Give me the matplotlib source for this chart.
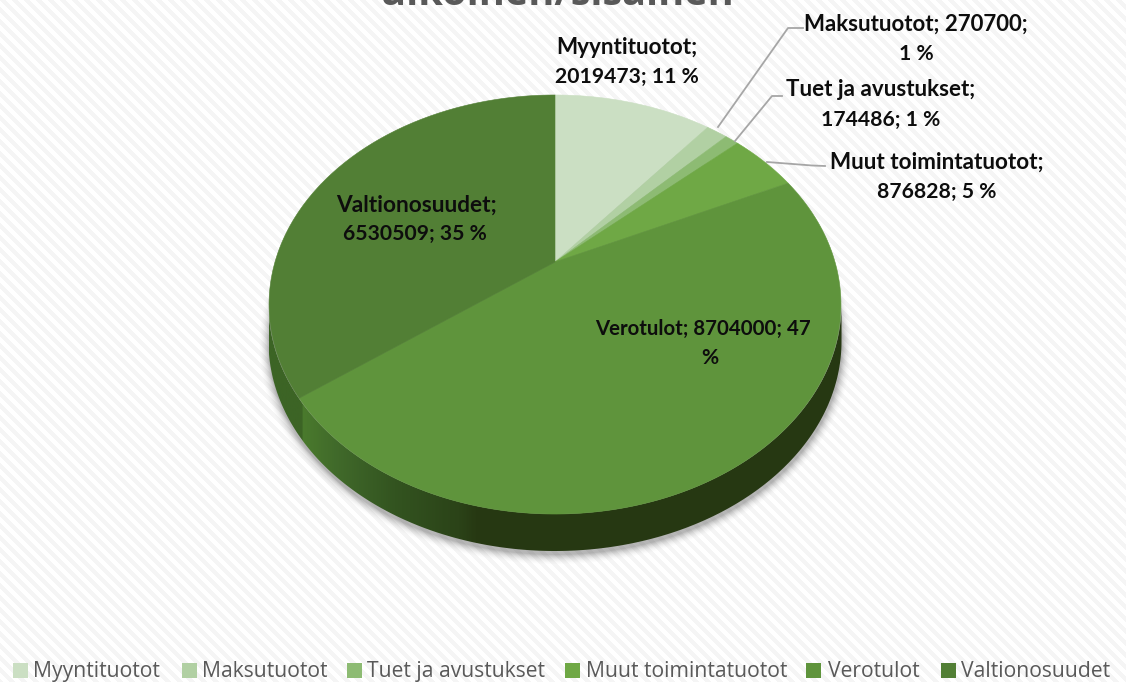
import numpy as np
import matplotlib
matplotlib.use("Agg")
import matplotlib.pyplot as plt
from matplotlib.colors import LinearSegmentedColormap
from matplotlib.patches import Polygon, Rectangle

title = "ulkoinen/sisäinen"
categories = ["Myyntituotot", "Maksutuotot", "Tuet ja avustukset",
              "Muut toimintatuotot", "Verotulot", "Valtionosuudet"]
values = [2019473, 270700, 174486, 876828, 8704000, 6530509]
percents = [11, 1, 1, 5, 47, 35]
colors = ["#cbdfc3", "#b1d0a3", "#8dbb73", "#6fa845", "#5f943c", "#527f35"]

W, H = 1126, 682
fig = plt.figure(figsize=(W / 100, H / 100), dpi=100)
ax = fig.add_axes([0, 0, 1, 1])
ax.set_xlim(0, W)
ax.set_ylim(H, 0)
ax.axis("off")

# background stripes
yy, xx = np.mgrid[0:H, 0:W]
stripe = ((xx - yy) % 12 < 6).astype(float)
bg = LinearSegmentedColormap.from_list("bg", ["#ffffff", "#f5f5f5"])
ax.imshow(stripe, cmap=bg, extent=(0, W, H, 0), aspect="auto", zorder=0,
          interpolation="bilinear")

# pie geometry (perspective view of a disc)
cx, apex_y = 555.0, 262.0
ell_cy, ell_a, ell_b = 304.5, 286.5, 209.5
depth = 37.0
k, A, B = 0.2029, 200.9, 280.0


def project(angle):
    u, v = np.sin(angle), np.cos(angle)
    d = 1 + k * v
    return cx + B * u / d, apex_y - A * v / d


# drop shadow
r = np.hypot((xx - cx) / ell_a, (yy - (ell_cy + depth + 3)) / ell_b)
dist = (r - 1) * np.hypot(xx - cx, yy - (ell_cy + depth + 3)) / np.maximum(r, 1e-6)
alpha = 0.38 * np.clip(1 - dist / 11, 0, 1) ** 2
rgba = np.zeros((H, W, 4))
rgba[..., :3] = 0.25
rgba[..., 3] = alpha
ax.imshow(rgba, extent=(0, W, H, 0), aspect="auto", zorder=1)

# side wall
t = np.linspace(0, np.pi, 300)
lower_x = cx + ell_a * np.cos(t)
lower_y = ell_cy + depth + ell_b * np.sin(t)
upper_x = lower_x[::-1]
upper_y = ell_cy + ell_b * np.sin(t)[::-1]
side = Polygon(np.column_stack([np.r_[lower_x, upper_x], np.r_[lower_y, upper_y]]),
               closed=True, fc="none", ec="none")
ax.add_patch(side)
wall = LinearSegmentedColormap.from_list(
    "wall", [(0, "#3c6425"), (0.055, "#3c6425"), (0.057, "#4a7a2d"), (0.119, "#40692a"),
             (0.217, "#335420"), (0.33, "#2b4318"), (0.36, "#273913"), (1, "#263812")])
im = ax.imshow(np.linspace(0, 1, W)[None, :], cmap=wall,
               extent=(cx - ell_a, cx + ell_a, 600, 250), aspect="auto", zorder=2)
im.set_clip_path(side)

# top face
fractions = np.array(values) / np.sum(values)
edges = np.r_[0, np.cumsum(fractions)] * 2 * np.pi
for start, stop, color in zip(edges[:-1], edges[1:], colors):
    a = np.linspace(start, stop, 240)
    px, py = project(a)
    ax.add_patch(Polygon(np.column_stack([np.r_[cx, px], np.r_[apex_y, py]]),
                         closed=True, fc=color, ec=color, lw=0.4, zorder=3))

# leader lines
leader_x = [[718, 788, 803], [735, 772, 782], [767, 812, 825]]
leader_y = [[127, 28, 28], [141, 96, 96], [162, 165.5, 166]]
for lx, ly in zip(leader_x, leader_y):
    ax.plot(lx, ly, color="#a6a6a6", lw=1.3, zorder=4, solid_joinstyle="round")

# data labels
label_font = dict(family="Lato", fontweight="bold", color="#0d0d0d",
                  ha="center", va="center", zorder=5)
labels = [
    (627, 48, f"{categories[0]};", 16.2), (627, 77, f"{values[0]}; {percents[0]} %", 15.2),
    (916, 24, f"{categories[1]}; {values[1]};", 16.0), (916, 54, f"{percents[1]} %", 15.2),
    (881, 90, f"{categories[2]};", 16.1), (881, 120, f"{values[2]}; {percents[2]} %", 15.2),
    (937, 162, f"{categories[3]};", 16.2), (937, 192, f"{values[3]}; {percents[3]} %", 15.2),
    (703, 329, f"{categories[4]}; {values[4]}; {percents[4]}", 14.7), (710, 358, "%", 15.2),
    (416, 205, f"{categories[5]};", 16.3), (415, 234, f"{values[5]}; {percents[5]} %", 15.2),
]
for x, y, s, size in labels:
    ax.text(x, y, s, fontsize=size, **label_font)

# title, cut off by the top edge as in the reference
ax.text(557, 5, title, family="Open Sans", fontweight="bold", fontsize=28.5,
        color="#595959", ha="center", va="baseline", zorder=5)

# legend
legend_sq = [13, 182, 347, 565, 806, 941]
legend_tx = [33, 202, 367, 586, 828, 961]
for sx, tx, name, color in zip(legend_sq, legend_tx, categories, colors):
    ax.add_patch(Rectangle((sx, 663), 14.5, 15, fc=color, ec="none", zorder=5))
    ax.text(tx, 671.5, name, family="Open Sans", fontsize=15.2, color="#595959",
            ha="left", va="center", zorder=5)

ax.set_xlim(0, W)
ax.set_ylim(H, 0)
fig.savefig("out.png", dpi=100)
